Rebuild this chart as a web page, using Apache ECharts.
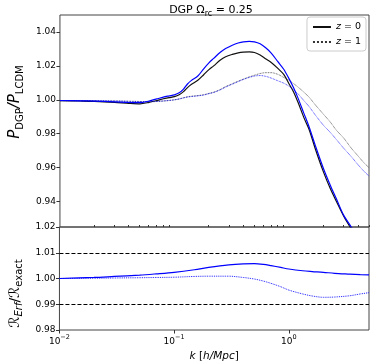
<!DOCTYPE html>
<html><head><meta charset="utf-8">
<script src="https://cdn.jsdelivr.net/npm/echarts@6/dist/echarts.min.js"></script>
<style>html,body{margin:0;padding:0;background:#fff}#c{width:374px;height:363px}</style>
</head><body><div id="c"></div>
<script>
// ---- data ----
const kTop = [0.01,0.015,0.02,0.03,0.04,0.05,0.06,0.07,0.08,0.09,0.1,0.11,0.12,0.13,0.14,0.16,0.18,0.2,0.22,0.25,0.28,0.32,0.36,0.4,0.45,0.5,0.56,0.63,0.7,0.8,0.9,1.0,1.1,1.2,1.35,1.5,1.7,2.0,2.3,2.6,3.0,3.5,4.0,4.5,5.0];
const blackZ0 = [0.9995,0.9993,0.9991,0.9985,0.9979,0.9976,0.9985,0.9996,1.0006,1.0013,1.0019,1.0030,1.0048,1.0072,1.0090,1.0115,1.0148,1.0178,1.0200,1.0233,1.0254,1.0268,1.0277,1.0281,1.0282,1.0279,1.0264,1.0240,1.0220,1.0185,1.0150,1.0095,1.0045,0.9985,0.9895,0.9825,0.9710,0.9575,0.9475,0.9400,0.9315,0.9238,0.9170,0.9100,0.9050];
const blueZ0  = [0.9996,0.9994,0.9992,0.9988,0.9984,0.9983,0.9993,1.0005,1.0016,1.0023,1.0029,1.0041,1.0063,1.0093,1.0113,1.0140,1.0183,1.0218,1.0244,1.0279,1.0302,1.0322,1.0335,1.0342,1.0344,1.0342,1.0330,1.0305,1.0275,1.0225,1.0180,1.0125,1.0070,1.0010,0.9920,0.9840,0.9730,0.9595,0.9495,0.9415,0.9320,0.9250,0.9190,0.9130,0.9080];
const blackZ1 = [0.9995,0.9995,0.9994,0.9993,0.9991,0.9990,0.9989,0.9990,0.9993,0.9996,1.0000,1.0005,1.0012,1.0018,1.0021,1.0025,1.0030,1.0038,1.0045,1.0060,1.0078,1.0095,1.0110,1.0122,1.0135,1.0145,1.0155,1.0160,1.0160,1.0150,1.0132,1.0115,1.0095,1.0075,1.0045,1.0015,0.9970,0.9915,0.9868,0.9820,0.9775,0.9715,0.9670,0.9630,0.9600];
const blueZ1  = [0.9995,0.9995,0.9994,0.9993,0.9991,0.9990,0.9989,0.9990,0.9993,0.9996,1.0000,1.0005,1.0011,1.0016,1.0019,1.0023,1.0028,1.0036,1.0043,1.0058,1.0075,1.0092,1.0107,1.0120,1.0132,1.0140,1.0143,1.0138,1.0128,1.0112,1.0098,1.0080,1.0058,1.0035,0.9995,0.9960,0.9910,0.9850,0.9807,0.9765,0.9715,0.9665,0.9618,0.9580,0.9550];

const kLow = [0.01,0.02,0.03,0.05,0.07,0.1,0.15,0.2,0.3,0.4,0.5,0.6,0.7,0.85,1.0,1.32,1.6,2.0,2.5,3.4,4.2,5.0];
const errZ0 = [1.0000,1.0004,1.0008,1.0013,1.0018,1.0024,1.0034,1.0043,1.0053,1.0057,1.0058,1.0055,1.0050,1.0043,1.0037,1.0030,1.0027,1.0024,1.0020,1.0017,1.0015,1.0014];
const errZ1 = [1.0000,1.0001,1.0002,1.0003,1.0004,1.0005,1.0008,1.0009,1.0009,1.0004,0.9998,0.9990,0.9981,0.9968,0.9955,0.9940,0.9932,0.9927,0.9928,0.9933,0.9940,0.9945];
const refLevels = [1.01, 0.99];

const topTicks = [0.94,0.96,0.98,1.00,1.02,1.04];
const xMajor = [0.01,0.1,1];
const xMinor = [0.02,0.03,0.04,0.05,0.06,0.07,0.08,0.09,0.2,0.3,0.4,0.5,0.6,0.7,0.8,0.9,2,3,4,5];
const xExp = {0.01:'\u22122', 0.1:'\u22121', 1:'0'};

// ---- chart ----
const pairs = (xs, ys) => xs.map((x,i)=>[x, ys[i]]);
const FONT = 'DejaVu Sans';
const chart = echarts.init(document.getElementById('c'), null, {renderer:'canvas'});
const xBase = {type:'log', logBase:10, min:0.01, max:5, splitLine:{show:false}, axisLine:{show:false}};
const lineBase = {type:'line', symbol:'none', showSymbol:false, smooth:0.3, clip:true, animation:false};
chart.setOption({
  animation:false,
  textStyle:{fontFamily:FONT},
  title:{
    text:'{a|DGP \u03A9}{s|rc}{a| = 0.25}', left:'206', textAlign:'center', top:-2,
    textStyle:{fontWeight:'normal', rich:{
      a:{fontFamily:FONT,fontSize:11,fontWeight:'normal',color:'#000',lineHeight:15,verticalAlign:'middle'},
      s:{fontFamily:FONT,fontSize:8,fontWeight:'normal',color:'#000',lineHeight:15,verticalAlign:'bottom',padding:[4,0,0,0]}
    }}
  },
  legend:{
    data:['z0','z1'], orient:'vertical', right:8, top:17,
    itemWidth:18, itemHeight:8, itemGap:5,
    itemStyle:{opacity:0},
    padding:[5,5,4,5], borderColor:'#ccc', borderWidth:1, borderRadius:3, backgroundColor:'#fff',
    formatter: n => n==='z0' ? '{i|z} = 0' : '{i|z} = 1',
    textStyle:{fontFamily:FONT,fontSize:9.5,color:'#000',rich:{i:{fontFamily:FONT,fontStyle:'italic',fontSize:9.5,color:'#000'}}}
  },
  grid:[
    {left:44, right:5, top:15, height:212, show:true, borderColor:'#444', borderWidth:1, backgroundColor:'transparent'},
    {left:44, right:5, top:227, height:106, show:true, borderColor:'#444', borderWidth:1, backgroundColor:'transparent'}
  ],
  xAxis:[
    Object.assign({}, xBase, {gridIndex:0, axisTick:{show:false}, axisLabel:{show:false}}),
    Object.assign({}, xBase, {gridIndex:1,
      axisTick:{show:true, length:3.5, lineStyle:{color:'#333'}, customValues:xMajor},
      axisLabel:{show:true, customValues:xMajor, margin:4,
        formatter: v => { const key = Math.abs(v-0.01)<1e-9?0.01:(Math.abs(v-0.1)<1e-9?0.1:1); return '{b|10}{s|'+xExp[key]+'}'; },
        rich:{b:{fontFamily:FONT,fontSize:9,color:'#000',lineHeight:12,verticalAlign:'bottom'},
              s:{fontFamily:FONT,fontSize:6.5,color:'#000',lineHeight:12,verticalAlign:'top'}}},
      name:'{i|k}{n| [}{i|h/Mpc}{n|]}', nameLocation:'middle', nameGap:21,
      nameTextStyle:{rich:{i:{fontFamily:FONT,fontStyle:'italic',fontSize:10.5,color:'#000'},
                           n:{fontFamily:FONT,fontSize:10.5,color:'#000'}}}}),
    Object.assign({}, xBase, {gridIndex:1, axisLabel:{show:false},
      axisTick:{show:true, length:2, lineStyle:{color:'#333'}, customValues:xMinor}})
  ],
  yAxis:[
    {type:'value', gridIndex:0, min:0.925, max:1.05, splitLine:{show:false}, axisLine:{show:false},
     axisTick:{show:true, length:3.5, lineStyle:{color:'#333'}, customValues:topTicks},
     axisLabel:{customValues:topTicks, fontFamily:FONT, fontSize:9, color:'#000', margin:4, formatter:v=>v.toFixed(2)},
     name:'{p|P}{s|DGP}{p|/P}{s|LCDM}', nameLocation:'middle', nameGap:27, nameRotate:90,
     nameTextStyle:{padding:[0,0,0,38], rich:{p:{fontFamily:FONT,fontStyle:'italic',fontSize:15,color:'#000',lineHeight:19,verticalAlign:'middle'},
                          s:{fontFamily:FONT,fontSize:10,color:'#000',lineHeight:19,verticalAlign:'bottom',padding:[6,0,0,0]}}}},
    {type:'value', gridIndex:1, min:0.98, max:1.02, interval:0.01, splitLine:{show:false}, axisLine:{show:false},
     axisTick:{show:true, length:3.5, lineStyle:{color:'#333'}},
     axisLabel:{fontFamily:FONT, fontSize:9, color:'#000', margin:4, formatter:v=>v.toFixed(2)},
     name:'{r|\u211B}{e|Erf}{r|/\u211B}{s|exact}', nameLocation:'middle', nameGap:27, nameRotate:90,
     nameTextStyle:{padding:[0,30,0,0], rich:{r:{fontFamily:FONT,fontSize:14,color:'#000',lineHeight:19,verticalAlign:'middle'},
                          e:{fontFamily:FONT,fontStyle:'italic',fontSize:10,color:'#000',lineHeight:19,verticalAlign:'bottom',padding:[6,0,0,0]},
                          s:{fontFamily:FONT,fontSize:10,color:'#000',lineHeight:19,verticalAlign:'bottom',padding:[6,0,0,0]}}}}
  ],
  series:[
    Object.assign({}, lineBase, {name:'z0', xAxisIndex:0, yAxisIndex:0, data:pairs(kTop,blackZ0), color:'#000', lineStyle:{color:'#111',width:1.2,type:'solid'}}),
    Object.assign({}, lineBase, {name:'z1', xAxisIndex:0, yAxisIndex:0, data:pairs(kTop,blackZ1), color:'#000', lineStyle:{color:'#333',width:0.8,type:'dotted'}}),
    Object.assign({}, lineBase, {name:'blue0', xAxisIndex:0, yAxisIndex:0, data:pairs(kTop,blueZ0), lineStyle:{color:'#0000ff',width:1.2,type:'solid'}}),
    Object.assign({}, lineBase, {name:'blue1', xAxisIndex:0, yAxisIndex:0, data:pairs(kTop,blueZ1), lineStyle:{color:'#0000ff',width:0.8,type:'dotted'}}),
    Object.assign({}, lineBase, {name:'err0', xAxisIndex:1, yAxisIndex:1, data:pairs(kLow,errZ0), lineStyle:{color:'#0000ff',width:1.2,type:'solid'},
      markLine:{silent:true, symbol:'none', label:{show:false}, lineStyle:{color:'#000',width:1,type:[4,2]}, data:refLevels.map(v=>({yAxis:v}))}}),
    Object.assign({}, lineBase, {name:'err1', xAxisIndex:1, yAxisIndex:1, data:pairs(kLow,errZ1), lineStyle:{color:'#0000ff',width:0.9,type:'dotted'}})
  ]
});
</script></body></html>
